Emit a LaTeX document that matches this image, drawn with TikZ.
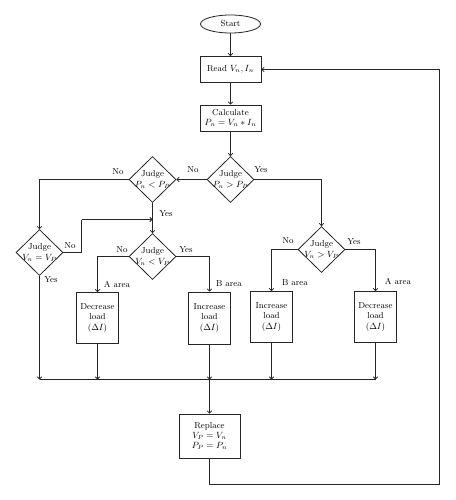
\documentclass[tikz,border=0pt]{standalone}
\usetikzlibrary{shapes.geometric,arrows.meta}
\begin{document}
\begin{tikzpicture}[x=1pt,y=-1pt,
  every node/.style={font=\fontsize{8.7}{10.2}\selectfont},
  line/.style={draw=black!85,line width=0.8pt},
  arr/.style={line,-{To[length=3pt,width=5pt]}},
  procbox/.style={line,rectangle,inner sep=0pt,align=center},
  dia/.style={line,diamond,inner sep=0pt,minimum width=47pt,minimum height=46pt},
  dtext/.style={align=center,inner sep=0pt},
  lab/.style={inner sep=0pt}]
\useasboundingbox (0,0) rectangle (455,500);
% nodes
\node[line,ellipse,minimum width=60pt,minimum height=18pt,inner sep=0pt] (start) at (230.5,24) {Start};
\node[procbox,minimum width=61pt,minimum height=26pt] (read) at (230.5,69.5) {Read $V_n, I_n$};
\node[procbox,minimum width=61pt,minimum height=26pt] (calc) at (230.5,118) {Calculate\\$P_n = V_n \ast I_n$};
\node[dia] (j1) at (230.5,179.5) {};
\node[dtext] at (j1) {Judge\\$P_n > P_P$};
\node[dia] (j2) at (152.5,179.5) {};
\node[dtext] at (j2) {Judge\\$P_n < P_P$};
\node[dia] (j3) at (152.5,256.5) {};
\node[dtext] at (j3) {Judge\\$V_n < V_P$};
\node[dia] (j4) at (39.5,252.5) {};
\node[dtext] at (j4) {Judge\\$V_n = V_P$};
\node[dia] (j5) at (321.5,249.5) {};
\node[dtext] at (j5) {Judge\\$V_n > V_P$};
\node[procbox,minimum width=42pt,minimum height=51pt] (b1) at (97.5,318) {Decrease\\load\\($\Delta I$)};
\node[procbox,minimum width=42pt,minimum height=52pt] (b2) at (209.5,318) {Increase\\load\\($\Delta I$)};
\node[procbox,minimum width=42pt,minimum height=51pt] (b3) at (271.5,317) {Increase\\load\\($\Delta I$)};
\node[procbox,minimum width=42pt,minimum height=51pt] (b4) at (375.5,317) {Decrease\\load\\($\Delta I$)};
\node[procbox,minimum width=61pt,minimum height=44pt] (rep) at (209.5,436) {Replace\\$V_P = V_n$\\$P_P = P_n$};
% coordinates
\coordinate (busL) at (39.5,379.5);
\coordinate (busR) at (375.5,379.5);
\coordinate (m) at (152.5,219.5);
\coordinate (r1) at (81.5,252.5);
\coordinate (r2) at (81.5,219.5);
\coordinate (bb) at (209.5,379.5);
\coordinate (lp1) at (209.5,484.5);
\coordinate (lp2) at (439.5,484.5);
\coordinate (lp3) at (439.5,69.5);
% connectors
\draw[arr] (start) -- (read);
\draw[arr] (read) -- (calc);
\draw[arr] (calc) -- (j1.north);
\draw[arr] (j1.west) -- (j2.east);
\draw[arr] (j1.east) -| (j5.north);
\draw[arr] (j2.west) -| (j4.north);
\draw[arr] (j2.south) -- (j3.north);
\draw[line] (j4.east) -- (r1) -- (r2);
\draw[arr] (r2) -- (m);
\draw[arr] (j4.south) -- (busL);
\draw[arr] (j3.west) -| (b1.north);
\draw[arr] (j3.east) -| (b2.north);
\draw[arr] (j5.west) -| (b3.north);
\draw[arr] (j5.east) -| (b4.north);
\draw[arr] (b1.south) -- (b1.south |- busL);
\draw[arr] (b2.south) -- (b2.south |- busL);
\draw[arr] (b3.south) -- (b3.south |- busL);
\draw[arr] (b4.south) -- (b4.south |- busL);
\draw[line] (busL) -- (busR);
\draw[arr] (bb) -- (rep.north);
\draw[arr] (rep.south) -- (lp1) -- (lp2) -- (lp3) -- (read.east);
% labels
\node[lab] at (193,170) {No};
\node[lab] at (261,170) {Yes};
\node[lab] at (118,172) {No};
\node[lab] at (166,214) {Yes};
\node[lab] at (70,246) {No};
\node[lab] at (51,280) {Yes};
\node[lab] at (122,250) {No};
\node[lab] at (186,250) {Yes};
\node[lab] at (288,241) {No};
\node[lab] at (354,242) {Yes};
\node[lab] at (117,284) {A area};
\node[lab] at (229,284) {B area};
\node[lab] at (295,283) {B area};
\node[lab] at (398,281) {A area};
\end{tikzpicture}
\end{document}
